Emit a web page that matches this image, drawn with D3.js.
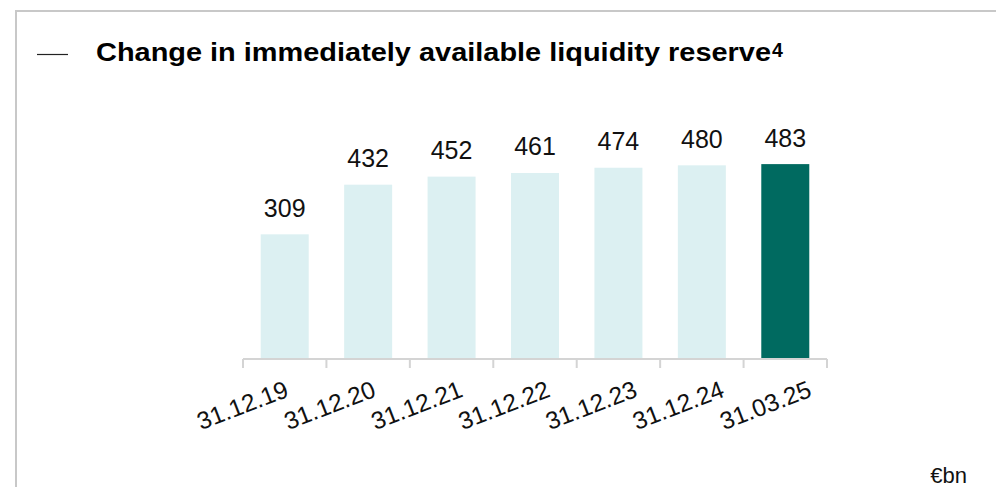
<!DOCTYPE html>
<html><head><meta charset="utf-8">
<script src="https://cdn.jsdelivr.net/npm/d3@7"></script>
<style>body{margin:0;background:#fff}svg{display:block}text{font-family:"Liberation Sans",Arial,sans-serif}</style>
</head><body>
<svg id="c" width="996" height="487"></svg>
<script>
const categories = ["31.12.19","31.12.20","31.12.21","31.12.22","31.12.23","31.12.24","31.03.25"];
const values = [309,432,452,461,474,480,483];
const highlight = [false,false,false,false,false,false,true];
const title = "Change in immediately available liquidity reserve";
const titleSup = "4";
const unitLabel = "€bn";

const svg = d3.select("#c");
// frame
svg.append("line").attr("x1",15).attr("x2",996).attr("y1",11).attr("y2",11).attr("stroke","#c8c8c8").attr("stroke-width",2);
svg.append("line").attr("x1",16).attr("x2",16).attr("y1",10).attr("y2",487).attr("stroke","#c8c8c8").attr("stroke-width",2);
// title
svg.append("line").attr("x1",37).attr("x2",68).attr("y1",54.5).attr("y2",54.5).attr("stroke","#222").attr("stroke-width",1.2);
const t = svg.append("text").attr("x",96).attr("y",61).attr("font-size",26.5).attr("font-weight","bold").attr("fill","#000");
t.append("tspan").attr("textLength",675).attr("lengthAdjust","spacingAndGlyphs").text(title);
t.append("tspan").attr("x",772).attr("font-size",19.5).attr("dy",-4).text(titleSup);

const x = d3.scaleBand().domain(categories).range([243,827]).paddingInner(0).paddingOuter(0);
const y = d3.scaleLinear().domain([0,500]).range([359,157.25]);
const xLabel = d3.scalePoint().domain(categories).range([290,813]);
const bw = 48;

svg.selectAll("rect.bar").data(values).join("rect").attr("class","bar")
  .attr("x",(d,i)=>x(categories[i])+x.bandwidth()/2-bw/2)
  .attr("width",bw)
  .attr("y",d=>y(d)).attr("height",d=>y(0)-y(d))
  .attr("fill",(d,i)=>highlight[i]?"#006a60":"#dcf0f2");

svg.selectAll("text.val").data(values).join("text").attr("class","val")
  .attr("x",(d,i)=>x(categories[i])+x.bandwidth()/2)
  .attr("y",d=>y(d)-17.5)
  .attr("text-anchor","middle").attr("font-size",25).attr("fill","#111")
  .text(d=>d);

// axis
const ax = svg.append("g");
ax.append("line").attr("x1",243).attr("x2",827).attr("y1",359).attr("y2",359).attr("stroke","#d4d4d4").attr("stroke-width",2);
const edges = categories.map(c=>x(c)).concat([x.range()[1]]);
ax.selectAll("line.tk").data(edges).join("line").attr("class","tk")
  .attr("x1",d=>d).attr("x2",d=>d).attr("y1",359).attr("y2",368).attr("stroke","#d4d4d4").attr("stroke-width",2);
ax.selectAll("text.cat").data(categories).join("text").attr("class","cat")
  .attr("transform",d=>`translate(${xLabel(d)},396) rotate(-21)`)
  .attr("text-anchor","end").attr("font-size",24.5).attr("fill","#111").text(d=>d);

svg.append("text").attr("x",967).attr("y",483).attr("text-anchor","end").attr("font-size",22).attr("fill","#111").text(unitLabel);
</script>
</body></html>
